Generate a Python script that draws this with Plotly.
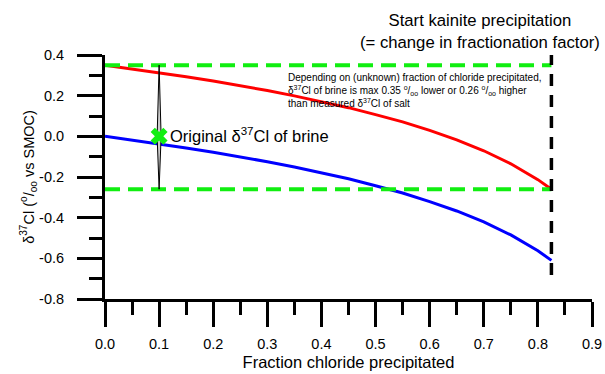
import plotly.graph_objects as go

# Data
fraction = [0, 0.05, 0.1, 0.15, 0.2, 0.25, 0.3, 0.35, 0.4, 0.45, 0.5,
            0.55, 0.6, 0.65, 0.7, 0.75, 0.8, 0.825]
brine_low = [0.0, -0.018, -0.037, -0.057, -0.078, -0.101, -0.125, -0.151, -0.179,
             -0.209, -0.243, -0.279, -0.321, -0.367, -0.421, -0.485, -0.563, -0.61]
brine_high = [0.35, 0.332, 0.313, 0.293, 0.272, 0.249, 0.225, 0.199, 0.171,
              0.141, 0.107, 0.071, 0.029, -0.017, -0.071, -0.135, -0.213, -0.26]

green_x = [0, 0.825]
green_upper = [0.35, 0.35]
green_lower = [-0.26, -0.26]

kainite_x = [0.825, 0.825]
kainite_y = [0.41, -0.70]

diamond_x = [0.1, 0.1037, 0.1, 0.0963, 0.1]
diamond_y = [0.35, 0.0, -0.26, 0.0, 0.35]

orig_x = [0.1]
orig_y = [0.0]

x_tickvals = [0, 0.1, 0.2, 0.3, 0.4, 0.5, 0.6, 0.7, 0.8, 0.9]
x_ticktext = ["0.0", "0.1", "0.2", "0.3", "0.4", "0.5", "0.6", "0.7", "0.8", "0.9"]
y_tickvals = [0.4, 0.2, 0.0, -0.2, -0.4, -0.6, -0.8]
y_ticktext = ["0.4", "0.2", "0.0", "-0.2", "-0.4", "-0.6", "-0.8"]

FONT = "Liberation Sans, Arial, sans-serif"
GREEN = "#11ee11"

fig = go.Figure()

fig.add_trace(go.Scatter(x=fraction, y=brine_high, mode="lines",
                         line=dict(color="#ff0000", width=3), hoverinfo="skip"))
fig.add_trace(go.Scatter(x=fraction, y=brine_low, mode="lines",
                         line=dict(color="#0000ff", width=3), hoverinfo="skip"))
fig.add_trace(go.Scatter(x=green_x, y=green_upper, mode="lines",
                         line=dict(color=GREEN, width=4, dash="15px,8px"), hoverinfo="skip"))
fig.add_trace(go.Scatter(x=green_x, y=green_lower, mode="lines",
                         line=dict(color=GREEN, width=4, dash="15px,8px"), hoverinfo="skip"))
fig.add_trace(go.Scatter(x=kainite_x, y=kainite_y, mode="lines",
                         line=dict(color="black", width=3.5, dash="12px,9px"), hoverinfo="skip"))
fig.add_trace(go.Scatter(x=diamond_x, y=diamond_y, mode="lines", fill="toself",
                         fillcolor="#cccccc", line=dict(color="black", width=1), hoverinfo="skip"))
fig.add_trace(go.Scatter(x=orig_x, y=orig_y, mode="markers",
                         marker=dict(symbol="x", size=15, color=GREEN,
                                     line=dict(width=0)), hoverinfo="skip"))

fig.add_annotation(x=orig_x[0], y=orig_y[0], xref="x", yref="y", xanchor="left", yanchor="middle",
                   xshift=9, yshift=1, showarrow=False,
                   text="Original δ<sup>37</sup>Cl of brine",
                   font=dict(family=FONT, size=16.5, color="black"))

fig.update_layout(
    width=605, height=374,
    margin=dict(l=105, r=13, t=55, b=75),
    paper_bgcolor="white", plot_bgcolor="white",
    showlegend=False,
    font=dict(family=FONT, size=14, color="black"),
    xaxis=dict(range=[0, 0.9], tickvals=x_tickvals, ticktext=x_ticktext, automargin=False,
               showgrid=False, zeroline=False, showline=True, linecolor="black", linewidth=3,
               ticks="outside", ticklen=25, tickwidth=3, tickcolor="black",
               minor=dict(dtick=0.05, tick0=0, ticks="outside", ticklen=13, tickwidth=3, tickcolor="black"),
               tickfont=dict(size=14.5), ticklabelstandoff=5,
               title=dict(text="Fraction chloride precipitated", font=dict(size=16.5), standoff=6)),
    yaxis=dict(range=[-0.8, 0.4], tickvals=y_tickvals, ticktext=y_ticktext, automargin=False,
               showgrid=False, zeroline=False, showline=True, linecolor="black", linewidth=3,
               ticks="outside", ticklen=25, tickwidth=3, tickcolor="black",
               minor=dict(dtick=0.1, tick0=0, ticks="outside", ticklen=13, tickwidth=3, tickcolor="black"),
               tickfont=dict(size=14.5), ticklabelstandoff=10,
               title=dict(text="δ<sup>37</sup>Cl (<sup>o</sup>/<sub>oo</sub> vs SMOC)", font=dict(size=14.5), standoff=2)),
)

pw = 605 - 105 - 13
ph = 374 - 55 - 75
def px(xp):
    return (xp - 105) / pw
def py(yp):
    return 1 - (yp - 55) / ph

fig.add_annotation(x=px(286), y=py(70), xref="paper", yref="paper", showarrow=False,
                   text="Depending on (unknown) fraction of chloride precipitated,<br>"
                        "δ<sup>37</sup>Cl of brine is max 0.35 <sup>o</sup>/<sub>oo</sub> lower or 0.26 <sup>o</sup>/<sub>oo</sub> higher<br>"
                        "than measured δ<sup>37</sup>Cl of salt",
                   align="left", xanchor="left", yanchor="top",
                   font=dict(family=FONT, size=10, color="black"))

fig.add_annotation(x=px(480), y=py(9), xref="paper", yref="paper", showarrow=False,
                   text="Start kainite precipitation<br>(= change in fractionation factor)",
                   xanchor="center", yanchor="top", align="center",
                   font=dict(family=FONT, size=16.7, color="black"))

fig.write_html("out.html")
